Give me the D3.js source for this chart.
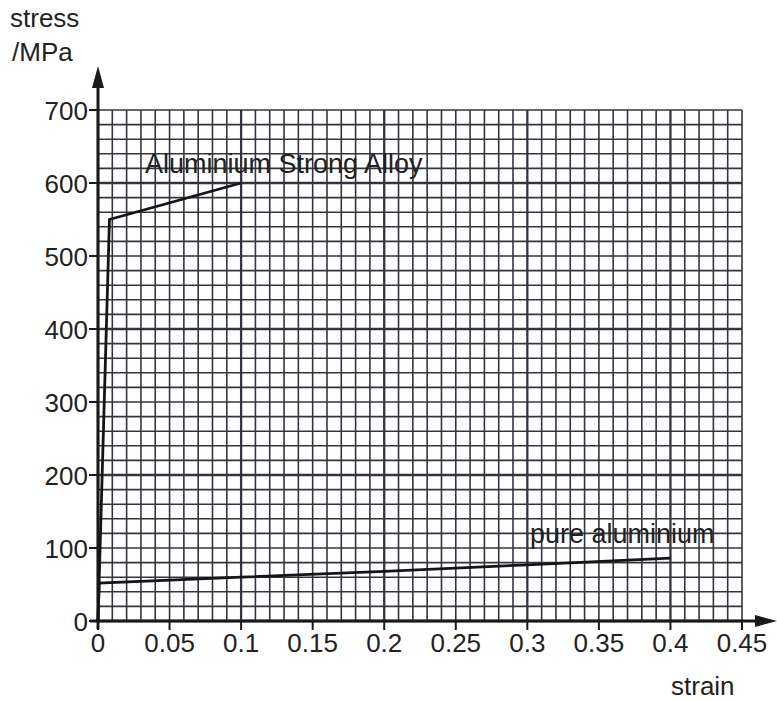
<!doctype html>
<html>
<head>
<meta charset='utf-8'>
<style>
body { margin: 0; background: #fff; }
text { font-family: 'Liberation Sans', Arial, sans-serif; fill: #222; }
</style>
</head>
<body>
<div id='chart'></div>
<script src='https://cdn.jsdelivr.net/npm/d3@7/dist/d3.min.js'></script>
<script>

const W = 777, H = 701;
const margin = {t:110, r:35, b:80, l:98};

// data
const xTicks = [0, 0.05, 0.1, 0.15, 0.2, 0.25, 0.3, 0.35, 0.4, 0.45];
const xTickLabels = ['0', '0.05', '0.1', '0.15', '0.2', '0.25', '0.3', '0.35', '0.4', '0.45'];
const yTicks = [0, 100, 200, 300, 400, 500, 600, 700];
const alloyStrain = [0, 0.008, 0.1];
const alloyStress = [0, 550, 600];
const pureStrain = [0, 0.0008, 0.1, 0.2, 0.3, 0.4];
const pureStress = [0, 52, 60, 68, 77, 86];

const x = d3.scaleLinear().domain([0, 0.45]).range([margin.l, W - margin.r]);
const y = d3.scaleLinear().domain([0, 700]).range([H - margin.b, margin.t]);

const svg = d3.select('#chart').append('svg')
  .attr('width', W)
  .attr('height', H);

// graph paper, 0.01 by 20 MPa
const minorX = d3.range(0, 46).map(i => i * 0.01);
const minorY = d3.range(0, 36).map(i => i * 20);
const gridCol = '#34343f';

const grid = svg.append('g');
grid.selectAll('.vx')
  .data(minorX)
  .enter().append('line')
  .attr('x1', d => x(d)).attr('x2', d => x(d))
  .attr('y1', y(0)).attr('y2', y(700))
  .attr('stroke', gridCol)
  .attr('stroke-width', (d, i) => i % 10 === 0 ? 2.3 : 1.6);
grid.selectAll('.hy')
  .data(minorY)
  .enter().append('line')
  .attr('y1', d => y(d)).attr('y2', d => y(d))
  .attr('x1', x(0)).attr('x2', x(0.45))
  .attr('stroke', gridCol)
  .attr('stroke-width', (d, i) => i % 10 === 0 ? 2.3 : 1.6);

// axes
const axisCol = '#1a1a1a';
svg.append('line')
  .attr('x1', x(0)).attr('x2', x(0))
  .attr('y1', y(0) + 8).attr('y2', 78)
  .attr('stroke', axisCol).attr('stroke-width', 3);
svg.append('path')
  .attr('d', `M${x(0) - 6},${88} L${x(0)},${66} L${x(0) + 6},${88} Z`)
  .attr('fill', axisCol);

svg.append('line')
  .attr('x1', x(0) - 8).attr('x2', 762)
  .attr('y1', y(0)).attr('y2', y(0))
  .attr('stroke', axisCol).attr('stroke-width', 3);
svg.append('path')
  .attr('d', `M${755},${y(0) - 6} L${777},${y(0)} L${755},${y(0) + 6} Z`)
  .attr('fill', axisCol);

// y ticks
svg.selectAll('.ytick')
  .data(yTicks)
  .enter().append('line')
  .attr('x1', x(0) - 9).attr('x2', x(0))
  .attr('y1', d => y(d)).attr('y2', d => y(d))
  .attr('stroke', axisCol).attr('stroke-width', 2);
svg.selectAll('.ylab')
  .data(yTicks)
  .enter().append('text')
  .attr('x', x(0) - 10)
  .attr('y', d => y(d) + 10)
  .attr('text-anchor', 'end')
  .attr('font-size', 26)
  .text(d => d);

// x ticks
svg.selectAll('.xtick')
  .data(xTicks)
  .enter().append('line')
  .attr('x1', d => x(d)).attr('x2', d => x(d))
  .attr('y1', y(0)).attr('y2', y(0) + 9)
  .attr('stroke', axisCol).attr('stroke-width', 2);
svg.selectAll('.xlab')
  .data(xTicks)
  .enter().append('text')
  .attr('x', d => x(d))
  .attr('y', 652)
  .attr('text-anchor', 'middle')
  .attr('font-size', 26)
  .text((d, i) => xTickLabels[i]);

// axis titles
svg.append('text').attr('x', 10).attr('y', 27).attr('font-size', 26).text('stress');
svg.append('text').attr('x', 12).attr('y', 61).attr('font-size', 26).text('/MPa');
svg.append('text').attr('x', 671).attr('y', 695).attr('font-size', 26).text('strain');

// curves
const line = d3.line().x(d => x(d[0])).y(d => y(d[1]));
svg.append('path')
  .datum(alloyStrain.map((s, i) => [s, alloyStress[i]]))
  .attr('d', line)
  .attr('fill', 'none')
  .attr('stroke', '#151515')
  .attr('stroke-width', 2.8);
svg.append('path')
  .datum(pureStrain.map((s, i) => [s, pureStress[i]]))
  .attr('d', line)
  .attr('fill', 'none')
  .attr('stroke', '#151515')
  .attr('stroke-width', 2.8);

// curve labels
svg.append('text')
  .attr('x', 145).attr('y', 173)
  .attr('font-size', 27)
  .attr('fill', '#333')
  .text('Aluminium Strong Alloy');
svg.append('text')
  .attr('x', 530).attr('y', 543)
  .attr('font-size', 27)
  .attr('fill', '#333')
  .text('pure aluminium');

</script>
</body>
</html>
